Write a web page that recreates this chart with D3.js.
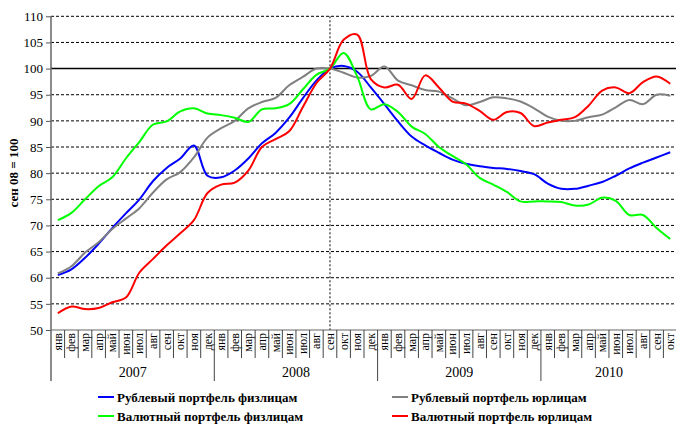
<!DOCTYPE html>
<html>
<head>
<meta charset="utf-8">
<script src="https://cdn.jsdelivr.net/npm/d3@7"></script>
<style>
  body { margin: 0; background: #fff; }
  svg { display: block; font-family: "Liberation Serif", "DejaVu Serif", serif; }
</style>
</head>
<body>
<div id="chart"></div>
<script>
// месяцы и годы
const monthNames = ["янв", "фев", "мар", "апр", "май", "июн", "июл", "авг", "сен", "окт", "ноя", "дек"];
const years = [2007, 2008, 2009, 2010];
const monthsInYear = [12, 12, 12, 10];
const yTicks = [50, 55, 60, 65, 70, 75, 80, 85, 90, 95, 100, 105, 110];

// индекс, сен 08 = 100
const rubFiz = [60.5, 61.6, 63.8, 66.5, 69.5, 72.3, 75, 78.5, 81, 82.8, 85.3, 79.5,
  79.2, 80.5, 82.8, 85.7, 87.7, 90.6, 94.3, 97.7, 100, 100.5, 99.4, 96.4,
  93.2, 89.9, 87, 85.3, 83.9, 82.6, 81.8, 81.3, 81, 80.8, 80.4, 79.8,
  78, 77, 77, 77.6, 78.3, 79.5, 80.9, 82, 83, 84];
const rubYur = [60.8, 62.2, 64.8, 66.8, 69.3, 71.3, 73.3, 76.3, 78.8, 80.2, 83, 86.8,
  88.6, 90, 92.4, 93.6, 94.4, 96.8, 98.4, 100, 100, 99.2, 98.3, 98.6,
  100.4, 97.7, 96.8, 95.9, 95.6, 94.3, 93, 93.6, 94.5, 94.3, 93.7, 92.4,
  90.8, 90, 90, 90.7, 91.2, 92.6, 94, 93.2, 95, 94.8];
const valFiz = [71, 72.4, 75, 77.5, 79.2, 82.8, 86, 89.3, 89.9, 91.8, 92.4, 91.4,
  91.1, 90.6, 89.8, 92.2, 92.4, 93.2, 96, 98.8, 100, 103, 98.5, 92.2,
  93.2, 91.7, 88.9, 87.5, 85, 83.3, 81.7, 79.1, 77.8, 76.4, 74.6, 74.6,
  74.6, 74.5, 73.8, 74, 75.3, 74.7, 72, 72, 69.5, 67.4];
const valYur = [53.2, 54.5, 54, 54.2, 55.3, 56.2, 61, 63.6, 66.2, 68.5, 71, 76.2,
  77.8, 78.2, 80.5, 85, 86.5, 88, 92.6, 97.2, 100, 105.5, 106.5, 98,
  96.4, 96.9, 94.2, 98.7, 96.4, 93.7, 93.3, 91.9, 90.2, 91.7, 91.5, 89,
  89.7, 90.2, 90.7, 92.9, 95.8, 96.4, 95.3, 97.4, 98.5, 97.1];

const seriesNames = ["Рублевый портфель физлицам", "Рублевый портфель юрлицам",
  "Валютный портфель физлицам", "Валютный портфель юрлицам"];
const seriesColors = ["#0000ff", "#808080", "#00ff00", "#ff0000"];
const seriesValues = [rubFiz, rubYur, valFiz, valYur];

const width = 676;
const height = 425;
const plotLeft = 51, plotRight = 677, plotTop = 16.3, plotBottom = 330;

// список месяцев
const months = [];
years.forEach((yr, yi) => {
  for (let m = 0; m < monthsInYear[yi]; m++) months.push({ year: yr, name: monthNames[m] });
});

const x = d3.scaleBand().domain(d3.range(months.length)).range([plotLeft, plotRight]);
const y = d3.scaleLinear().domain([50, 110]).range([plotBottom, plotTop]);
const cx = (i) => x(i) + x.bandwidth() / 2;

const svg = d3.select("#chart").append("svg")
  .attr("width", width)
  .attr("height", height);

// сетка
svg.append("g")
  .selectAll("line")
  .data(yTicks.filter((d) => d > 50 && d !== 100))
  .join("line")
  .attr("x1", plotLeft).attr("x2", plotRight)
  .attr("y1", (d) => y(d)).attr("y2", (d) => y(d))
  .attr("stroke", "#000")
  .attr("stroke-width", 1)
  .attr("stroke-dasharray", "3,2");

svg.append("line")
  .attr("x1", plotLeft).attr("x2", plotRight)
  .attr("y1", y(100)).attr("y2", y(100))
  .attr("stroke", "#000")
  .attr("stroke-width", 1.5);

// сентябрь 2008
const sepIndex = months.findIndex((d) => d.year === 2008 && d.name === "сен");
svg.append("line")
  .attr("x1", cx(sepIndex)).attr("x2", cx(sepIndex))
  .attr("y1", plotTop).attr("y2", plotBottom)
  .attr("stroke", "#000")
  .attr("stroke-width", 1)
  .attr("stroke-dasharray", "2,2");

// ось Y
svg.append("g")
  .attr("transform", `translate(${plotLeft},0)`)
  .call(d3.axisLeft(y).tickValues(yTicks).tickSize(5).tickPadding(3))
  .call((g) => g.select(".domain").remove())
  .call((g) => g.selectAll(".tick line").attr("stroke", "#555"))
  .call((g) => g.selectAll(".tick text")
    .attr("font-family", "Liberation Serif")
    .attr("font-size", 13)
    .attr("fill", "#000"));

svg.append("line")
  .attr("x1", plotLeft).attr("x2", plotLeft)
  .attr("y1", plotTop).attr("y2", 381)
  .attr("stroke", "#666")
  .attr("stroke-width", 1.5);

svg.append("line")
  .attr("x1", plotLeft).attr("x2", plotRight)
  .attr("y1", plotBottom).attr("y2", plotBottom)
  .attr("stroke", "#666")
  .attr("stroke-width", 1.2);

svg.append("text")
  .attr("transform", `translate(18,173) rotate(-90)`)
  .attr("text-anchor", "middle")
  .attr("font-size", 13)
  .attr("font-weight", "bold")
  .text("сен 08 = 100");

// подписи месяцев
svg.append("g")
  .selectAll("text")
  .data(months)
  .join("text")
  .attr("transform", (d, i) => `translate(${cx(i) + 4},${plotBottom + 3}) rotate(-90)`)
  .attr("text-anchor", "end")
  .attr("font-size", 12)
  .text((d) => d.name);

svg.append("g")
  .selectAll("line")
  .data(d3.range(1, months.length))
  .join("line")
  .attr("x1", (i) => x(i)).attr("x2", (i) => x(i))
  .attr("y1", plotBottom)
  .attr("y2", (i) => (i % 12 === 0 ? 381 : 358))
  .attr("stroke", "#444")
  .attr("stroke-width", 1);

// годы
let start = 0;
const yearSpans = years.map((yr, yi) => {
  const s = { year: yr, from: start, to: start + monthsInYear[yi] };
  start += monthsInYear[yi];
  return s;
});
svg.append("g")
  .selectAll("text")
  .data(yearSpans)
  .join("text")
  .attr("x", (d) => (x(d.from) + Math.min(x(d.to - 1) + x.bandwidth(), plotRight)) / 2)
  .attr("y", 377)
  .attr("text-anchor", "middle")
  .attr("font-size", 14)
  .text((d) => d.year);

// линии
const line = d3.line()
  .x((d, i) => cx(i))
  .y((d) => y(d))
  .curve(d3.curveCatmullRom.alpha(0.5));

svg.append("g")
  .selectAll("path")
  .data(seriesValues)
  .join("path")
  .attr("fill", "none")
  .attr("stroke", (d, i) => seriesColors[i])
  .attr("stroke-width", 2)
  .attr("d", line);

// легенда
const legendPos = [[98, 397], [392, 397], [98, 416], [392, 416]];
const legend = svg.append("g")
  .selectAll("g")
  .data(seriesNames)
  .join("g")
  .attr("transform", (d, i) => `translate(${legendPos[i][0]},${legendPos[i][1]})`);

legend.append("line")
  .attr("x1", 0).attr("x2", 16)
  .attr("stroke", (d, i) => seriesColors[i])
  .attr("stroke-width", 2);

legend.append("text")
  .attr("x", 19)
  .attr("dy", "0.35em")
  .attr("font-size", 13)
  .attr("font-weight", "bold")
  .text((d) => d);
</script>
</body>
</html>
